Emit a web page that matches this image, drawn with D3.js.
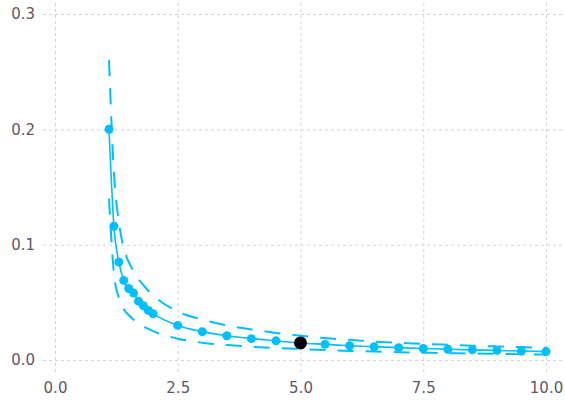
<!DOCTYPE html>
<html>
<head>
<meta charset="utf-8">
<script src="https://cdn.jsdelivr.net/npm/d3@7"></script>
<style>
  html, body { margin: 0; padding: 0; background: #fff; }
  svg { display: block; }
  .grid line { stroke: #d2d2e2; stroke-width: 1; stroke-dasharray: 3,3; }
  .grid text { fill: #5e5866; font-family: "DejaVu Sans", sans-serif; font-size: 15px; }
  .grid path.domain { display: none; }
</style>
</head>
<body>
<svg id="chart" width="565" height="402"></svg>
<script>
// Sample positions along x
const xs = [1.1, 1.2, 1.3, 1.4, 1.5, 1.6, 1.7, 1.8, 1.9, 2.0,
            2.5, 3.0, 3.5, 4.0, 4.5, 5.0, 5.5, 6.0, 6.5, 7.0,
            7.5, 8.0, 8.5, 9.0, 9.5, 10.0];

// Central estimate
const mid = [0.200, 0.116, 0.085, 0.069, 0.062, 0.058, 0.051, 0.047, 0.043, 0.040,
             0.030, 0.0246, 0.021, 0.0185, 0.0166, 0.0148, 0.0136, 0.0124, 0.0115, 0.0107,
             0.0100, 0.0093, 0.0088, 0.0083, 0.0078, 0.0073];

// Upper and lower bounds
const upper = [0.260, 0.162, 0.120, 0.097, 0.085, 0.077, 0.070, 0.065, 0.060, 0.056,
               0.042, 0.035, 0.030, 0.0265, 0.0235, 0.021, 0.019, 0.0175, 0.016, 0.015,
               0.014, 0.0132, 0.0124, 0.0118, 0.0112, 0.0106];
const lower = [0.140, 0.075, 0.054, 0.044, 0.039, 0.035, 0.031, 0.029, 0.027, 0.025,
               0.0185, 0.015, 0.013, 0.0115, 0.0104, 0.0095, 0.0086, 0.0079, 0.0073, 0.0068,
               0.0063, 0.0059, 0.0056, 0.0053, 0.0050, 0.0047];

// Highlighted point
const highlightX = [5.0];
const highlightY = [0.0148];

// Tick values
const xTicks = [0, 2.5, 5, 7.5, 10];
const yTicks = [0, 0.1, 0.2, 0.3];

const svg = d3.select("#chart");
const x = d3.scaleLinear().domain([0, 10]).range([55, 546]);
const y = d3.scaleLinear().domain([0, 0.3]).range([360, 14]);

const gridBottom = 372, gridLeft = 43, gridRight = 565;

// Vertical grid lines with x labels
svg.append("g")
  .attr("class", "grid")
  .attr("transform", `translate(0,${gridBottom})`)
  .call(d3.axisBottom(x).tickValues(xTicks).tickFormat(d3.format(".1f"))
    .tickSize(-gridBottom).tickPadding(10));

// Horizontal grid lines with y labels
svg.append("g")
  .attr("class", "grid")
  .attr("transform", `translate(${gridLeft},0)`)
  .call(d3.axisLeft(y).tickValues(yTicks).tickFormat(d3.format(".1f"))
    .tickSize(-(gridRight - gridLeft)).tickPadding(8));

const blue = "#00bfff";
const pts = xs.map((v, i) => ({ x: v, m: mid[i], u: upper[i], l: lower[i] }));

const line = key => d3.line().x(d => x(d.x)).y(d => y(d[key])).curve(d3.curveMonotoneX);

// Bounds as dashed curves
["u", "l"].forEach(k => {
  svg.append("path")
    .datum(pts)
    .attr("d", line(k))
    .attr("fill", "none")
    .attr("stroke", blue)
    .attr("stroke-width", 2)
    .attr("stroke-dasharray", "16,12");
});

// Central curve
svg.append("path")
  .datum(pts)
  .attr("d", line("m"))
  .attr("fill", "none")
  .attr("stroke", blue)
  .attr("stroke-width", 1.6);

svg.append("g")
  .selectAll("circle")
  .data(pts)
  .join("circle")
  .attr("cx", d => x(d.x))
  .attr("cy", d => y(d.m))
  .attr("r", 4.5)
  .attr("fill", blue);

svg.append("g")
  .selectAll("circle")
  .data(highlightX.map((v, i) => ({ x: v, y: highlightY[i] })))
  .join("circle")
  .attr("cx", d => x(d.x))
  .attr("cy", d => y(d.y))
  .attr("r", 6.5)
  .attr("fill", "#000");
</script>
</body>
</html>
